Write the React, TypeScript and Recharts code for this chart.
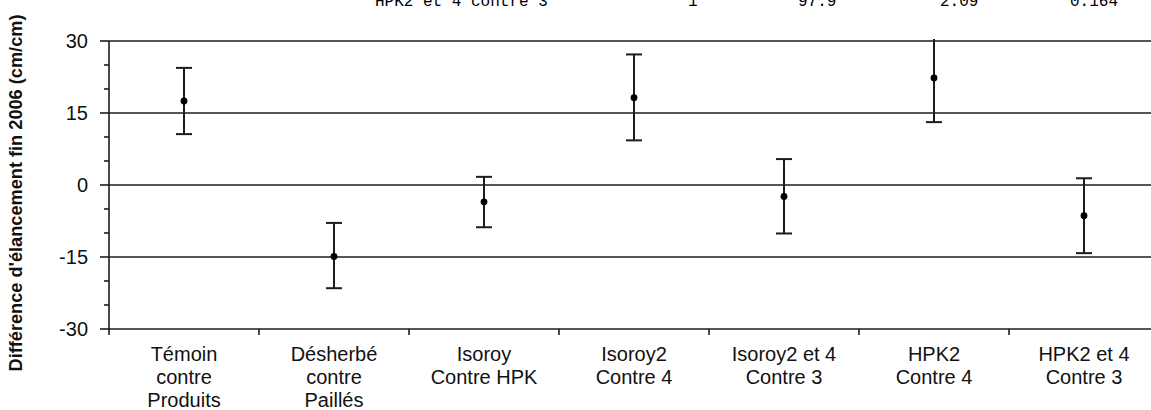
import { ComposedChart, Scatter, ErrorBar, XAxis, YAxis, ReferenceLine } from "recharts"

// Pairwise contrasts: estimated difference with its confidence interval
const comparisons = [
  ["Témoin", "contre", "Produits"],
  ["Désherbé", "contre", "Paillés"],
  ["Isoroy", "Contre HPK"],
  ["Isoroy2", "Contre 4"],
  ["Isoroy2 et 4", "Contre 3"],
  ["HPK2", "Contre 4"],
  ["HPK2 et 4", "Contre 3"],
]
const estimates = [17.5, -14.9, -3.5, 18.2, -2.4, 22.3, -6.4]
const lowerBounds = [10.6, -21.5, -8.8, 9.3, -10.1, 13.1, -14.2]
const upperBounds = [24.4, -7.9, 1.7, 27.2, 5.4, 33, 1.4]

const yTicks = [-30, -25, -20, -15, -10, -5, 0, 5, 10, 15, 20, 25, 30]
const gridValues = [-15, 0, 15, 30]

// tail of a printed results row above the figure
const headerCells = ["HPK2 et 4 contre 3", "1", "97.9", "2.09", "0.164"]
const headerX = [375, 688, 798, 940, 1070]

const INK = "#1c1c1c"
const SANS = "'Liberation Sans', Arial, Helvetica, sans-serif"
const CHART_W = 1170
const PLOT_TOP = 41
const PLOT_LEFT = 109
const PLOT_RIGHT = 1159
const HALF_BAND = (PLOT_RIGHT - PLOT_LEFT) / comparisons.length / 2

const data = comparisons.map((lines, i) => ({
  key: lines.join("\n"),
  diff: estimates[i],
  err: [estimates[i] - lowerBounds[i], upperBounds[i] - estimates[i]],
}))

function CategoryTick({ x, y, payload }: any) {
  const lines = String(payload.value).split("\n")
  return (
    <g>
      <line x1={x - HALF_BAND} x2={x - HALF_BAND} y1={y} y2={y + 6} stroke={INK} strokeWidth={1.6} />
      <text x={x} y={y + 32} textAnchor="middle" fontSize={20} fill="#111" fontFamily={SANS}>
        {lines.map((l, i) => (
          <tspan key={i} x={x} dy={i === 0 ? 0 : 23}>
            {l}
          </tspan>
        ))}
      </text>
    </g>
  )
}

function ValueTick({ x, y, payload }: any) {
  const major = payload.value % 15 === 0
  return (
    <g>
      <line x1={x - (major ? 9 : 5)} x2={x} y1={y} y2={y} stroke={INK} strokeWidth={1.6} />
      {major && (
        <text x={x - 21} y={y} dy={7} textAnchor="end" fontSize={20} fill="#111" fontFamily={SANS}>
          {payload.value}
        </text>
      )}
    </g>
  )
}

export default function App() {
  return (
    <div
      style={{
        position: "fixed",
        left: 0,
        top: 0,
        width: 1151,
        height: 410,
        overflow: "hidden",
        background: "#fff",
      }}
    >
      <svg width={0} height={0} style={{ position: "absolute" }}>
        <defs>
          {/* whiskers running past the top of the scale are cut just above it */}
          <clipPath id="whisker-clip" clipPathUnits="userSpaceOnUse">
            <rect x={0} y={PLOT_TOP - 2} width={CHART_W} height={410} />
          </clipPath>
        </defs>
      </svg>
      <ComposedChart
        width={CHART_W}
        height={410}
        data={data}
        margin={{ top: PLOT_TOP, right: CHART_W - PLOT_RIGHT, bottom: 0, left: 0 }}
      >
        <XAxis
          dataKey="key"
          type="category"
          height={81}
          interval={0}
          padding={{ left: HALF_BAND, right: HALF_BAND }}
          tickSize={0}
          tickMargin={0}
          tickLine={false}
          axisLine={{ stroke: INK, strokeWidth: 1.6 }}
          tick={<CategoryTick />}
        />
        <YAxis
          width={PLOT_LEFT}
          type="number"
          domain={[-30, 30]}
          ticks={yTicks}
          allowDataOverflow
          interval={0}
          tickSize={0}
          tickMargin={0}
          tickLine={false}
          axisLine={{ stroke: INK, strokeWidth: 1.6 }}
          tick={<ValueTick />}
        />
        {gridValues.map((v) => (
          <ReferenceLine key={v} y={v} stroke={INK} strokeWidth={1.6} />
        ))}
        <Scatter
          dataKey="diff"
          isAnimationActive={false}
          shape={(p: any) => <circle cx={p.cx} cy={p.cy} r={3.4} fill="#000" />}
        >
          <ErrorBar
            dataKey="err"
            direction="y"
            width={8}
            stroke={INK}
            strokeWidth={2}
            clipPath="url(#whisker-clip)"
            isAnimationActive={false}
          />
        </Scatter>
      </ComposedChart>
      <svg width={1151} height={410} style={{ position: "absolute", left: 0, top: 0, pointerEvents: "none" }}>
        {headerCells.map((t, i) => (
          <text key={i} x={headerX[i]} y={6} fontSize={16} fill="#000" fontFamily="'Liberation Mono', monospace">
            {t}
          </text>
        ))}
        <text
          x={15}
          y={193}
          transform="rotate(-90 15 193)"
          textAnchor="middle"
          dominantBaseline="central"
          fontSize={19}
          fontWeight="bold"
          fill="#111"
          fontFamily="'Liberation Sans Narrow', 'Liberation Sans', Arial, sans-serif"
          textLength={357}
          lengthAdjust="spacingAndGlyphs"
        >
          Différence d'élancement fin 2006 (cm/cm)
        </text>
      </svg>
    </div>
  )
}
